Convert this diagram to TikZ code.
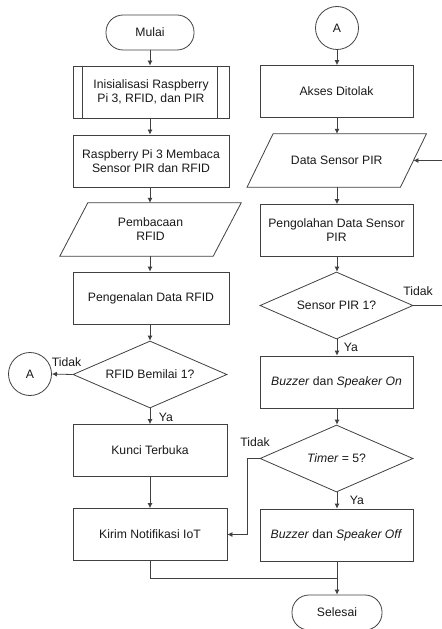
\documentclass[tikz,border=0pt]{standalone}
\usepackage{fontspec}
\setmainfont{Liberation Sans}
\usetikzlibrary{shapes.geometric,arrows.meta,calc}
\tikzset{
  ln/.style={draw=black!75, line width=0.8bp},
  txt/.style={font=\fontsize{12.2bp}{14bp}\selectfont, text=black!90, align=center, inner sep=0pt},
  box/.style={ln, txt, rectangle, minimum width=#1, minimum height=52bp},
  box/.default=154bp,
  term/.style={ln, txt, rectangle, rounded corners=17bp, minimum width=88bp, minimum height=35bp},
  dec/.style={ln, txt, diamond, aspect=2.3, minimum width=154bp, minimum height=67bp},
  io/.style={txt, rectangle, minimum width=153bp, minimum height=53bp},
  conn/.style={ln, txt, circle, minimum size=43bp},
  arr/.style={ln, -{Latex[length=5bp,width=5bp]}},
  lbl/.style={txt}
}
\begin{document}
\begin{tikzpicture}[x=1bp,y=-1bp]
\path[use as bounding box] (0,0) rectangle (442,629);
\clip (0,0) rectangle (442,629);
% left column
\node[term] (mulai) at (150,32.5) {Mulai};
\node[box=156bp] (init) at (151,92) {Inisialisasi Raspberry\\Pi 3, RFID, dan PIR};
\draw[ln] ([xshift=10bp]init.north west) -- ([xshift=10bp]init.south west);
\draw[ln] ([xshift=-12bp]init.north east) -- ([xshift=-12bp]init.south east);
\node[box=156bp] (baca) at (151,161) {Raspberry Pi 3 Membaca\\Sensor PIR dan RFID};
\node[io] (pbc) at (150.5,229.5) {Pembacaan\\RFID};
\draw[ln] ([xshift=-14bp]pbc.south west) -- ([xshift=14bp]pbc.north west) -- ([xshift=14bp]pbc.north east) -- ([xshift=-14bp]pbc.south east) -- cycle;
\node[box=156bp] (kenal) at (151,298) {Pengenalan Data RFID};
\node[dec] (d1) at (150,374.5) {RFID Bemilai 1?};
\node[conn] (a1) at (30,374) {A};
\node[box] (kunci) at (150,450.5) {Kunci Terbuka};
\node[box] (kirim) at (150,534.5) {Kirim Notifikasi IoT};
% right column
\node[conn] (a2) at (337,28) {A};
\node[box=153bp] (akses) at (336.5,91.5) {Akses Ditolak};
\node[io] (data) at (336.75,160.5) {Data Sensor PIR};
\draw[ln] ([xshift=-13bp]data.south west) -- ([xshift=13bp]data.north west) -- ([xshift=13bp]data.north east) -- ([xshift=-13bp]data.south east) -- cycle;
\node[box=153bp] (olah) at (336.5,230.5) {Pengolahan Data Sensor\\PIR};
\node[dec, minimum width=153bp] (d2) at (336.5,305.5) {Sensor PIR 1?};
\node[box=153bp] (bon) at (336.5,382) {\textit{Buzzer} dan \textit{Speaker On}};
\node[dec, minimum width=153bp] (d3) at (336.5,458.5) {\textit{Timer} = 5?};
\node[box=153bp] (boff) at (336.5,535) {\textit{Buzzer} dan \textit{Speaker Off}};
\node[term, minimum width=90bp] (selesai) at (337,612.5) {Selesai};
\coordinate (m) at (337,578);
% connectors left
\draw[arr] (mulai) -- (init.north -| mulai);
\draw[arr] (init.south -| mulai) -- (baca.north -| mulai);
\draw[arr] (baca.south -| mulai) -- (pbc.north -| mulai);
\draw[arr] (pbc.south -| mulai) -- (kenal.north -| mulai);
\draw[arr] (kenal.south -| d1) -- (d1.north);
\draw[arr] (d1.west) -- (a1.east);
\draw[arr] (d1.south) -- (kunci.north);
\draw[arr] (kunci.south) -- (kirim.north);
\draw[ln] (kirim.south) |- (m);
% connectors right
\draw[arr] (a2.south) -- (akses.north -| a2);
\draw[arr] (akses.south -| a2) -- (data.north -| a2);
\draw[arr] (data.south -| a2) -- (olah.north -| a2);
\draw[arr] (olah.south -| a2) -- (d2.north -| a2);
\draw[arr] (d2.east) -- ++(45,0) |- (data.east);
\draw[arr] (d2.south -| a2) -- (bon.north -| a2);
\draw[arr] (bon.south -| a2) -- (d3.north -| a2);
\draw[arr] (d3.west) -- ++(-12,0) |- (kirim.east);
\draw[arr] (d3.south -| a2) -- (boff.north -| a2);
\draw[arr] (boff.south -| a2) -- (selesai.north);
% labels
\node[lbl] at (66.5,362) {Tidak};
\node[lbl] at (166,417) {Ya};
\node[lbl] at (418,291) {Tidak};
\node[lbl] at (351,347) {Ya};
\node[lbl] at (255,442) {Tidak};
\node[lbl] at (357,500) {Ya};
\end{tikzpicture}
\end{document}
